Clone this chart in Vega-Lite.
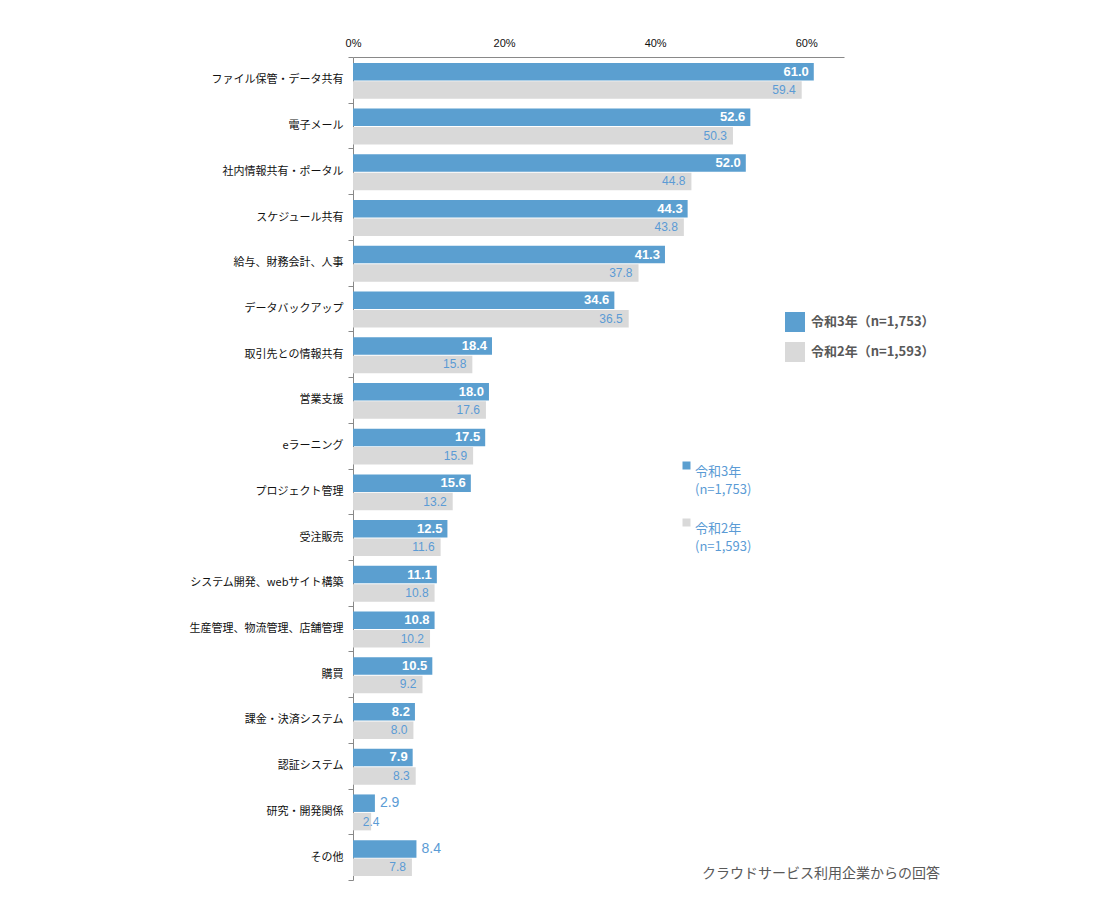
{
  "$schema": "https://vega.github.io/schema/vega-lite/v6.json",
  "width": 491,
  "height": 823,
  "autosize": "none",
  "padding": {"left": 353, "top": 57, "right": 267, "bottom": 39},
  "background": "white",
  "title": {
    "text": "クラウドサービス利用企業からの回答",
    "orient": "bottom",
    "anchor": "end",
    "frame": "group",
    "offset": 0,
    "baseline": "middle",
    "dx": 96,
    "dy": -7,
    "fontSize": 14,
    "fontWeight": "normal",
    "color": "#595959",
    "font": "Noto Sans CJK JP"
  },
  "data": {
    "values": [
      {"category": "ファイル保管・データ共有", "series": "令和3年", "value": 61.0},
      {"category": "ファイル保管・データ共有", "series": "令和2年", "value": 59.4},
      {"category": "電子メール", "series": "令和3年", "value": 52.6},
      {"category": "電子メール", "series": "令和2年", "value": 50.3},
      {"category": "社内情報共有・ポータル", "series": "令和3年", "value": 52.0},
      {"category": "社内情報共有・ポータル", "series": "令和2年", "value": 44.8},
      {"category": "スケジュール共有", "series": "令和3年", "value": 44.3},
      {"category": "スケジュール共有", "series": "令和2年", "value": 43.8},
      {"category": "給与、財務会計、人事", "series": "令和3年", "value": 41.3},
      {"category": "給与、財務会計、人事", "series": "令和2年", "value": 37.8},
      {"category": "データバックアップ", "series": "令和3年", "value": 34.6},
      {"category": "データバックアップ", "series": "令和2年", "value": 36.5},
      {"category": "取引先との情報共有", "series": "令和3年", "value": 18.4},
      {"category": "取引先との情報共有", "series": "令和2年", "value": 15.8},
      {"category": "営業支援", "series": "令和3年", "value": 18.0},
      {"category": "営業支援", "series": "令和2年", "value": 17.6},
      {"category": "eラーニング", "series": "令和3年", "value": 17.5},
      {"category": "eラーニング", "series": "令和2年", "value": 15.9},
      {"category": "プロジェクト管理", "series": "令和3年", "value": 15.6},
      {"category": "プロジェクト管理", "series": "令和2年", "value": 13.2},
      {"category": "受注販売", "series": "令和3年", "value": 12.5},
      {"category": "受注販売", "series": "令和2年", "value": 11.6},
      {"category": "システム開発、webサイト構築", "series": "令和3年", "value": 11.1},
      {"category": "システム開発、webサイト構築", "series": "令和2年", "value": 10.8},
      {"category": "生産管理、物流管理、店舗管理", "series": "令和3年", "value": 10.8},
      {"category": "生産管理、物流管理、店舗管理", "series": "令和2年", "value": 10.2},
      {"category": "購買", "series": "令和3年", "value": 10.5},
      {"category": "購買", "series": "令和2年", "value": 9.2},
      {"category": "課金・決済システム", "series": "令和3年", "value": 8.2},
      {"category": "課金・決済システム", "series": "令和2年", "value": 8.0},
      {"category": "認証システム", "series": "令和3年", "value": 7.9},
      {"category": "認証システム", "series": "令和2年", "value": 8.3},
      {"category": "研究・開発関係", "series": "令和3年", "value": 2.9},
      {"category": "研究・開発関係", "series": "令和2年", "value": 2.4},
      {"category": "その他", "series": "令和3年", "value": 8.4},
      {"category": "その他", "series": "令和2年", "value": 7.8}
    ]
  },
  "encoding": {
    "y": {
      "field": "category",
      "type": "nominal",
      "sort": null,
      "scale": {"paddingInner": 0, "paddingOuter": 0},
      "axis": {
        "title": null,
        "grid": false,
        "ticks": true,
        "tickSize": 5,
        "tickColor": "#898989",
        "tickBand": "extent",
        "domainColor": "#898989",
        "labelFontSize": 11,
        "labelColor": "#111111",
        "labelPadding": 5,
        "labelFont": "Noto Sans CJK JP"
      }
    },
    "yOffset": {
      "field": "series",
      "sort": ["令和3年", "令和2年"],
      "scale": {"paddingInner": 0.05, "paddingOuter": 0.266, "align": 0.6}
    },
    "x": {
      "field": "value",
      "type": "quantitative",
      "scale": {"domain": [0, 65], "nice": false},
      "axis": {
        "orient": "top",
        "title": null,
        "values": [0, 20, 40, 60],
        "labelExpr": "datum.value + '%'",
        "labelFlush": false,
        "ticks": false,
        "tickSize": 0,
        "grid": false,
        "domainColor": "#898989",
        "labelFontSize": 11,
        "labelColor": "#111111",
        "labelPadding": 9,
        "labelFont": "Liberation Sans"
      }
    }
  },
  "layer": [
    {
      "mark": {"type": "bar", "strokeWidth": 0},
      "encoding": {
        "color": {
          "field": "series",
          "type": "nominal",
          "scale": {"domain": ["令和3年", "令和2年"], "range": ["#5b9fd0", "#d9d9d9"]},
          "legend": {
            "title": null,
            "orient": "none",
            "legendX": 432,
            "legendY": 255,
            "symbolType": "square",
            "symbolSize": 400,
            "symbolStrokeWidth": 0,
            "labelFontSize": 13,
            "labelFontWeight": "bold",
            "labelColor": "#595959",
            "labelFont": "Noto Sans CJK JP",
            "labelOffset": 6,
            "rowPadding": 10,
            "labelExpr": "datum.label == '令和3年' ? '令和3年（n=1,753）' : '令和2年（n=1,593）'"
          }
        },
        "stroke": {
          "field": "series",
          "type": "nominal",
          "sort": "descending",
          "scale": {"range": ["#5b9fd0", "#d9d9d9"]},
          "legend": {
            "title": null,
            "orient": "none",
            "legendX": 327,
            "legendY": 402,
            "symbolType": "square",
            "symbolSize": 16,
            "symbolStrokeWidth": 4,
            "labelFontSize": 13,
            "labelColor": "#5b9bd5",
            "labelFont": "Noto Sans CJK JP",
            "labelOffset": 2,
            "labelBaseline": "top",
            "rowPadding": 15,
            "labelExpr": "datum.label == '令和3年' ? ['令和3年', '(n=1,753)'] : ['令和2年', '(n=1,593)']"
          }
        }
      }
    },
    {
      "transform": [{"filter": "datum.series == '令和3年' && datum.value >= 5 && datum.category != 'その他'"}],
      "mark": {"type": "text", "align": "right", "dx": -5, "color": "white", "fontWeight": "bold", "fontSize": 13, "font": "Liberation Sans"},
      "encoding": {"text": {"field": "value", "type": "quantitative", "format": ".1f"}}
    },
    {
      "transform": [{"filter": "datum.series == '令和3年' && (datum.value < 5 || datum.category == 'その他')"}],
      "mark": {"type": "text", "align": "left", "dx": 5, "color": "#5b9bd5", "fontSize": 14, "font": "Liberation Sans"},
      "encoding": {"text": {"field": "value", "type": "quantitative", "format": ".1f"}}
    },
    {
      "transform": [{"filter": "datum.series == '令和2年' && datum.value >= 5"}],
      "mark": {"type": "text", "align": "right", "dx": -6, "color": "#5b9bd5", "fontSize": 12, "font": "Liberation Sans"},
      "encoding": {"text": {"field": "value", "type": "quantitative", "format": ".1f"}}
    },
    {
      "transform": [{"filter": "datum.series == '令和2年' && datum.value < 5"}],
      "mark": {"type": "text", "align": "center", "dx": 0, "color": "#5b9bd5", "fontSize": 12, "font": "Liberation Sans"},
      "encoding": {"text": {"field": "value", "type": "quantitative", "format": ".1f"}}
    }
  ],
  "config": {
    "view": {"stroke": null},
    "font": "Noto Sans CJK JP",
    "style": {"guide-label": {"lineHeight": 18}}
  }
}
